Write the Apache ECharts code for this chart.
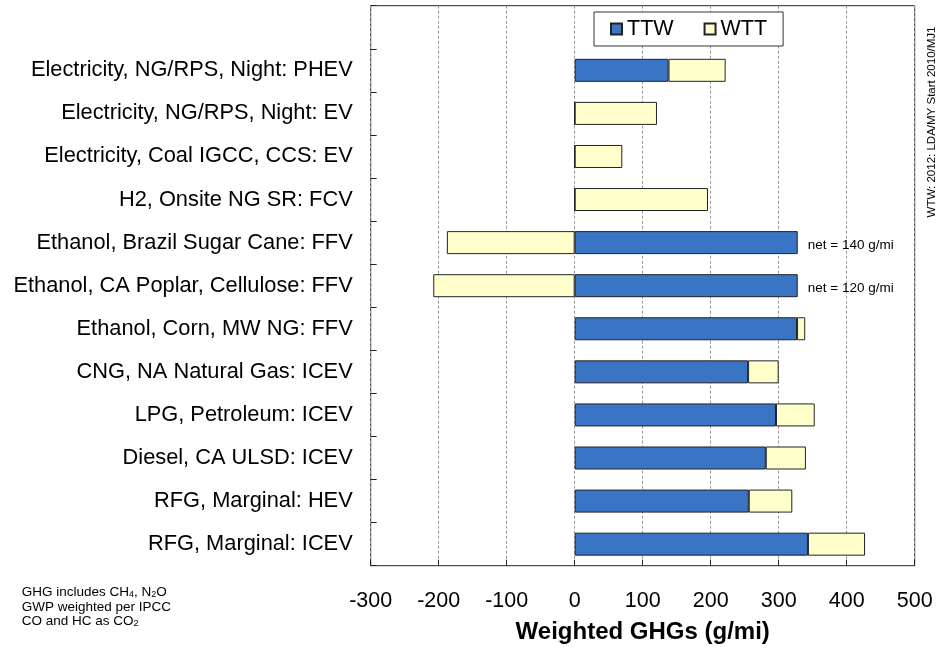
<!DOCTYPE html>
<html>
<head>
<meta charset="utf-8">
<script src="https://cdn.jsdelivr.net/npm/echarts@6/dist/echarts.min.js"></script>
<style>
  html, body { margin: 0; padding: 0; background: #fff; }
  #chart { width: 937px; height: 650px; }
</style>
</head>
<body>
<div id="chart"></div>
<script>
// pathways, top to bottom
const categories = [
  'Electricity, NG/RPS, Night: PHEV',
  'Electricity, NG/RPS, Night: EV',
  'Electricity, Coal IGCC, CCS: EV',
  'H2, Onsite NG SR: FCV',
  'Ethanol, Brazil Sugar Cane: FFV',
  'Ethanol, CA Poplar, Cellulose: FFV',
  'Ethanol, Corn, MW NG: FFV',
  'CNG, NA Natural Gas: ICEV',
  'LPG, Petroleum: ICEV',
  'Diesel, CA ULSD: ICEV',
  'RFG, Marginal: HEV',
  'RFG, Marginal: ICEV'
];
// g/mi
const ttw = [138, 0, 0, 0, 328, 328, 327, 255, 296, 281, 256, 343];
const wtt = [84, 121, 70, 196, -188, -208, 12, 45, 57, 59, 64, 84];
const netNotes = ['', '', '', '', 'net = 140 g/mi', 'net = 120 g/mi', '', '', '', '', '', ''];
const xTicks = { min: -300, max: 500, step: 100 };

const font = 'Liberation Sans, Arial, sans-serif';
// empty band on top holds the legend
const yCats = [''].concat(categories);
const ttwData = ['-'].concat(ttw);
const wttData = ['-'].concat(wtt);

const chart = echarts.init(document.getElementById('chart'));
chart.setOption({
  animation: false,
  textStyle: { fontFamily: font },
  grid: {
    left: 370.7, right: 22.3, top: 5.7, bottom: 84.3,
    show: true, borderColor: '#222', borderWidth: 1, backgroundColor: '#fff'
  },
  legend: {
    data: ['TTW', 'WTT'],
    left: 594, top: 12,
    padding: [6, 16, 6, 16],
    itemWidth: 11, itemHeight: 11, itemGap: 30,
    icon: 'rect',
    backgroundColor: '#fff', borderColor: '#333', borderWidth: 1,
    textStyle: { fontSize: 21.5, color: '#000', fontFamily: font }
  },
  xAxis: {
    type: 'value',
    min: xTicks.min, max: xTicks.max, interval: xTicks.step,
    axisLine: { show: false },
    axisTick: { show: true, inside: true, length: 6, lineStyle: { color: '#222' } },
    splitLine: { show: true, lineStyle: { color: '#999', type: [3, 2] } },
    axisLabel: { fontSize: 21.5, color: '#000', margin: 24, fontFamily: font },
    name: 'Weighted GHGs (g/mi)',
    nameLocation: 'middle',
    nameGap: 55,
    nameTextStyle: { fontSize: 24, fontWeight: 'bold', color: '#000', fontFamily: font }
  },
  yAxis: {
    type: 'category',
    data: yCats,
    inverse: true,
    position: 'left',
    axisLine: { show: false, onZero: false },
    axisTick: { show: true, inside: true, length: 6, interval: 0, lineStyle: { color: '#222' } },
    axisLabel: { fontSize: 21.8, color: '#000', margin: 18, fontFamily: font, interval: 0 },
    splitLine: { show: false }
  },
  series: [
    {
      name: 'TTW', type: 'bar', stack: 'ghg', barWidth: 23,
      data: ttwData,
      itemStyle: { color: '#3a74c4', borderColor: '#222', borderWidth: 1 },
      label: {
        show: true, position: 'right', distance: 10, offset: [0, 3],
        fontSize: 13.5, color: '#000', fontFamily: font,
        formatter: p => netNotes[p.dataIndex - 1] || ''
      }
    },
    {
      name: 'WTT', type: 'bar', stack: 'ghg', barWidth: 23,
      data: wttData,
      itemStyle: { color: '#ffffcc', borderColor: '#222', borderWidth: 1 }
    }
  ],
  graphic: [
    {
      type: 'text', left: 21.7, top: 585,
      style: {
        text: '{n|GHG includes CH}{s|4}{n|, N}{s|2}{n|O}',
        rich: {
          n: { fontSize: 13.5, fontFamily: font, fill: '#000' },
          s: { fontSize: 9, fontFamily: font, fill: '#000', padding: [6, 0, 0, 0] }
        }
      }
    },
    {
      type: 'text', left: 21.7, top: 600,
      style: { text: 'GWP weighted per IPCC', fontSize: 13.5, fontFamily: font, fill: '#000' }
    },
    {
      type: 'text', left: 21.7, top: 614,
      style: {
        text: '{n|CO and HC as CO}{s|2}',
        rich: {
          n: { fontSize: 13.5, fontFamily: font, fill: '#000' },
          s: { fontSize: 9, fontFamily: font, fill: '#000', padding: [6, 0, 0, 0] }
        }
      }
    },
    {
      type: 'text', x: 931.7, y: 122, rotation: Math.PI / 2,
      style: {
        text: 'WTW: 2012: LDA/MY Start 2010/MJ1',
        fontSize: 11.5, fontFamily: font, fill: '#000',
        align: 'center', verticalAlign: 'middle'
      }
    }
  ]
});
</script>
</body>
</html>
